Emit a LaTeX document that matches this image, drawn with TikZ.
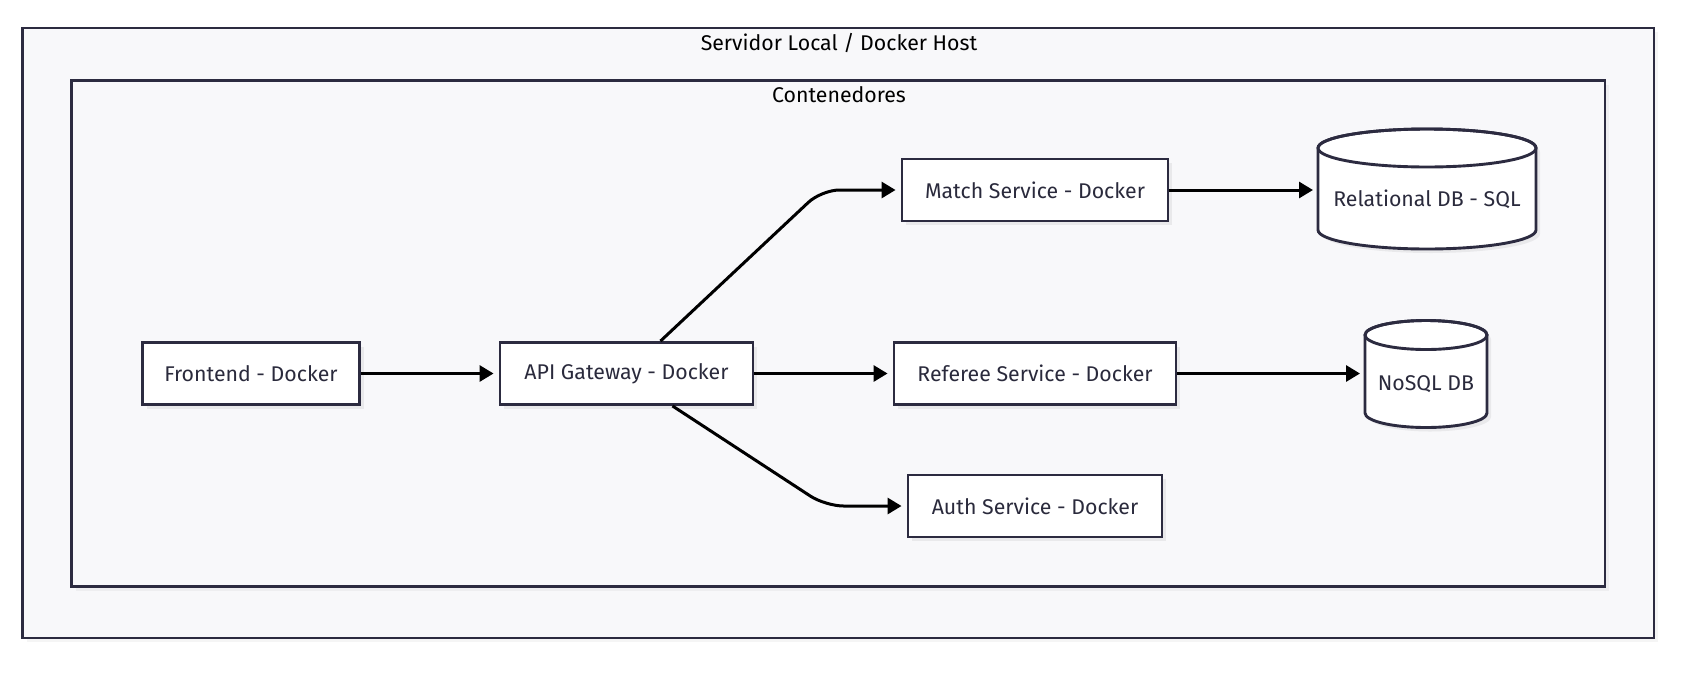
\documentclass[tikz,border=0pt]{standalone}
\usepackage{fontspec}
\setmainfont{Fira Sans}
\usetikzlibrary{arrows.meta,shadows,calc}
\definecolor{frame}{HTML}{2C2B40}
\definecolor{clusterbg}{HTML}{F8F8FA}
\definecolor{txt}{HTML}{2A2A3C}
\tikzset{
  cluster/.style={draw=frame, line width=2.9pt, fill=clusterbg,
    drop shadow={shadow xshift=4pt, shadow yshift=-4pt, opacity=0.08}},
  svc/.style={draw=frame, line width=2.9pt, fill=white, text=txt,
    minimum height=62pt, inner sep=0pt,
    font=\fontsize{21.3}{25}\selectfont,
    drop shadow={shadow xshift=4pt, shadow yshift=-4pt, opacity=0.12}},
  dbshape/.style={draw=frame, line width=2.9pt, fill=white,
    drop shadow={shadow xshift=4pt, shadow yshift=-4pt, opacity=0.12}},
  dbtext/.style={text=txt, inner sep=0pt, font=\fontsize{21.3}{25}\selectfont},
  ttl/.style={text=black, inner sep=0pt, font=\fontsize{21.3}{25}\selectfont},
  conn/.style={draw=black, line width=3pt, shorten >=5pt,
    -{Triangle[length=14pt,width=16pt]}},
}
\begin{document}
\begin{tikzpicture}[x=1pt,y=-1pt]
\useasboundingbox[fill=white] (0,0) rectangle (1704,678);
% clusters
\path[cluster] (22.5,28) rectangle (1654,638);
\node[ttl, anchor=base] (hosttitle) at (839,50) {Servidor Local / Docker Host};
\path[cluster] (71.5,80.5) rectangle (1605,586.5);
\node[ttl, anchor=base] (conttitle) at (839,102) {Contenedores};
% service nodes
\node[svc, minimum width=217pt] (front) at (251,373.5) {Frontend - Docker};
\node[svc, minimum width=253pt] (api) at (626.5,373.5) {API Gateway - Docker};
\node[svc, minimum width=266pt] (match) at (1035,190) {Match Service - Docker};
\node[svc, minimum width=282pt] (referee) at (1035,373.5) {Referee Service - Docker};
\node[svc, minimum width=254pt] (auth) at (1035,506) {Auth Service - Docker};
% relational db cylinder
\path[dbshape] (1318,148) -- (1318,230)
  arc[start angle=180, end angle=0, x radius=109, y radius=19]
  -- (1536,148)
  arc[start angle=0, end angle=-180, x radius=109, y radius=19] -- cycle;
\draw[draw=frame, line width=2.9pt] (1427,148) ellipse [x radius=109, y radius=19];
\node[dbtext] (reldb) at (1427,199) {Relational DB - SQL};
\coordinate (reldbw) at (1318,190);
% nosql db cylinder
\path[dbshape] (1365,335) -- (1365,413)
  arc[start angle=180, end angle=0, x radius=61, y radius=14.5]
  -- (1487,335)
  arc[start angle=0, end angle=-180, x radius=61, y radius=14.5] -- cycle;
\draw[draw=frame, line width=2.9pt] (1426,335) ellipse [x radius=61, y radius=14.5];
\node[dbtext] (nosql) at (1426,384) {NoSQL DB};
\coordinate (nosqlw) at (1365,373.5);
% connectors
\draw[conn] (front.east) -- (api.west);
\draw[conn, rounded corners=18pt] ($(api.north)+(34,0)$) -- ($(match.west)+(-79,0)$) -- (match.west);
\draw[conn] (api.east) -- (referee.west);
\draw[conn, rounded corners=18pt] ($(api.south)+(46,0)$) -- ($(auth.west)+(-81,0)$) -- (auth.west);
\draw[conn] (match.east) -- (reldbw);
\draw[conn] (referee.east) -- (nosqlw);
\end{tikzpicture}
\end{document}
